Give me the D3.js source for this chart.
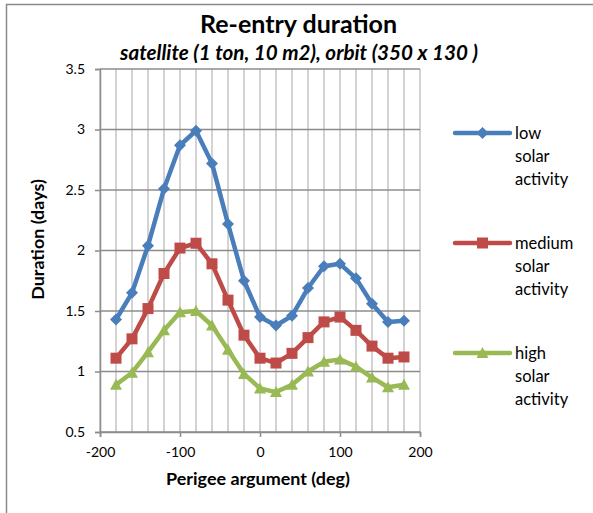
<!DOCTYPE html>
<html>
<head>
<meta charset="utf-8">
<script src="https://cdn.jsdelivr.net/npm/d3@7"></script>
<style>
  body { margin: 0; background: #fff; }
  svg { display: block; }
  text { font-family: Lato, "Liberation Sans", sans-serif; fill: #000; }
</style>
</head>
<body>
<svg id="chart" width="593" height="513"></svg>
<script>
// Perigee argument (deg) sampled every 20 degrees
const perigeeArgs = [-180, -160, -140, -120, -100, -80, -60, -40, -20, 0, 20, 40, 60, 80, 100, 120, 140, 160, 180];
// Re-entry duration (days) for each solar activity level
const lowActivity    = [1.43, 1.65, 2.04, 2.51, 2.87, 2.99, 2.72, 2.22, 1.75, 1.45, 1.38, 1.46, 1.69, 1.87, 1.89, 1.77, 1.56, 1.41, 1.42];
const mediumActivity = [1.11, 1.27, 1.52, 1.81, 2.02, 2.06, 1.89, 1.59, 1.30, 1.11, 1.07, 1.15, 1.28, 1.41, 1.45, 1.34, 1.21, 1.11, 1.12];
const highActivity   = [0.89, 0.99, 1.16, 1.34, 1.49, 1.50, 1.38, 1.18, 0.98, 0.86, 0.83, 0.89, 1.00, 1.08, 1.10, 1.04, 0.95, 0.87, 0.89];

const xTickLabels = [-200, -100, 0, 100, 200];
const xGridValues = d3.range(-200, 201, 20);
const yTickLabels = [0.5, 1, 1.5, 2, 2.5, 3, 3.5];
const seriesLabels = [["low", "solar", "activity"], ["medium", "solar", "activity"], ["high", "solar", "activity"]];

const titleText = "Re-entry duration";
const subtitleText = "satellite (1 ton, 10 m2), orbit (350 x 130 )";
const xTitle = "Perigee argument (deg)";
const yTitle = "Duration (days)";

const svg = d3.select("#chart");
const plot = { left: 100, right: 420, top: 69, bottom: 432 };

const x = d3.scaleLinear().domain([-200, 200]).range([plot.left, plot.right]);
const y = d3.scaleLinear().domain([0.5, 3.5]).range([plot.bottom, plot.top]);

// Scale a text element's font size so its rendered width equals `width`
function fitWidth(sel, width) {
  const size = parseFloat(sel.attr("font-size"));
  const w = sel.node().getComputedTextLength();
  if (w > 0) sel.attr("font-size", (size * width / w).toFixed(2));
  return sel;
}

// Outer chart frame (left and top edges visible)
svg.append("path")
  .attr("d", `M6.5,513 V4.5 H593`)
  .attr("fill", "none").attr("stroke", "#8a8a8a").attr("stroke-width", 1.5);

// Vertical minor gridlines
svg.append("g").selectAll("line").data(xGridValues).join("line")
  .attr("x1", d => x(d)).attr("x2", d => x(d))
  .attr("y1", plot.top).attr("y2", plot.bottom)
  .attr("stroke", "#c4c4c4").attr("stroke-width", 1.5);

// Horizontal major gridlines
svg.append("g").selectAll("line").data(yTickLabels).join("line")
  .attr("x1", plot.left).attr("x2", plot.right)
  .attr("y1", d => y(d)).attr("y2", d => y(d))
  .attr("stroke", "#8c8c8c").attr("stroke-width", 1.5);

// Axes
const yAxis = d3.axisLeft(y).tickValues(yTickLabels).tickSize(5).tickPadding(10)
  .tickFormat(d => String(d));
const gy = svg.append("g").attr("transform", `translate(${plot.left},0)`).call(yAxis);
gy.select(".domain").attr("stroke", "#8c8c8c").attr("stroke-width", 1.5);
gy.selectAll(".tick line").attr("stroke", "#8c8c8c").attr("stroke-width", 1.5);
gy.selectAll(".tick text").attr("font-size", 14).attr("font-family", null);

const xAxis = d3.axisBottom(x).tickValues(xTickLabels).tickSize(5).tickPadding(10)
  .tickFormat(d => String(d));
const gx = svg.append("g").attr("transform", `translate(0,${plot.bottom})`).call(xAxis);
gx.select(".domain").attr("stroke", "#8c8c8c").attr("stroke-width", 1.5);
gx.selectAll(".tick line").attr("stroke", "#8c8c8c").attr("stroke-width", 1.5);
gx.selectAll(".tick text").attr("font-size", 14).attr("font-family", null);

// Series
const series = [
  { values: lowActivity,    color: "#4a7ebb", marker: "diamond" },
  { values: mediumActivity, color: "#be4b48", marker: "square" },
  { values: highActivity,   color: "#98b954", marker: "triangle" }
];

function markerPath(type) {
  if (type === "diamond") return "M0,-6 L6,0 L0,6 L-6,0 Z";
  if (type === "square") return "M-5.5,-5.5 H5.5 V5.5 H-5.5 Z";
  return "M0,-6 L6,5 L-6,5 Z";
}

const line = d3.line().x((d, i) => x(perigeeArgs[i])).y(d => y(d));

series.forEach(s => {
  svg.append("path")
    .datum(s.values)
    .attr("d", line)
    .attr("fill", "none")
    .attr("stroke", s.color)
    .attr("stroke-width", 4.5)
    .attr("stroke-linejoin", "round")
    .attr("stroke-linecap", "round");
  svg.append("g").selectAll("path").data(s.values).join("path")
    .attr("transform", (d, i) => `translate(${x(perigeeArgs[i])},${y(d)})`)
    .attr("d", markerPath(s.marker))
    .attr("fill", s.color);
});

// Legend
const legend = svg.append("g");
series.forEach((s, k) => {
  const ly = 133 + k * 110;
  legend.append("line")
    .attr("x1", 455).attr("x2", 510).attr("y1", ly).attr("y2", ly)
    .attr("stroke", s.color).attr("stroke-width", 4.5).attr("stroke-linecap", "round");
  legend.append("path")
    .attr("transform", `translate(482.5,${ly})`)
    .attr("d", markerPath(s.marker)).attr("fill", s.color);
  seriesLabels[k].forEach((t, j) => {
    legend.append("text")
      .attr("x", 515).attr("y", ly + j * 23.3)
      .attr("dy", "0.35em")
      .attr("font-size", 16.5)
      .text(t);
  });
});

// Titles
fitWidth(svg.append("text")
  .attr("x", 298.5).attr("y", 33)
  .attr("text-anchor", "middle")
  .attr("font-size", 23).attr("font-weight", "bold")
  .text(titleText), 197);

fitWidth(svg.append("text")
  .attr("x", 299).attr("y", 60)
  .attr("text-anchor", "middle")
  .attr("font-size", 16).attr("font-weight", "bold").attr("font-style", "italic")
  .text(subtitleText), 358);

const xt = fitWidth(svg.append("text")
  .attr("x", (plot.left + plot.right) / 2 - 2).attr("y", 485)
  .attr("text-anchor", "middle")
  .attr("font-size", 14.5).attr("font-weight", "bold")
  .text(xTitle), 184);

svg.append("text")
  .attr("transform", `translate(44,${(plot.top + plot.bottom) / 2 - 11}) rotate(-90)`)
  .attr("text-anchor", "middle")
  .attr("font-size", xt.attr("font-size")).attr("font-weight", "bold")
  .text(yTitle);
</script>
</body>
</html>
